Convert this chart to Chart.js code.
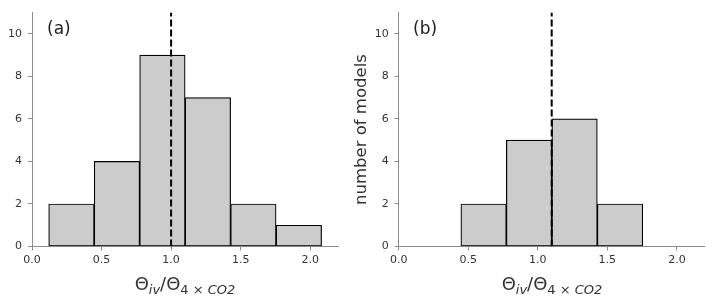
<!DOCTYPE html>
<html>
<head>
<meta charset="utf-8">
<script src="https://cdn.jsdelivr.net/npm/chart.js@4"></script>
<style>
  body { margin: 0; background: #fff; }
  #wrap { position: relative; width: 706px; height: 300px; font-family: "DejaVu Sans", sans-serif; }
  .pane { position: absolute; top: 0; width: 353px; height: 300px; }
  .tag { position: absolute; top: 18px; font-size: 17px; color: #222; }
  .xlab { position: absolute; top: 273px; text-align: center; font-size: 18px; color: #333; white-space: nowrap; }
  .xlab sub { font-size: 13px; vertical-align: -4px; }
  .xlab i { font-style: italic; }
</style>
</head>
<body>
<div id="wrap">
  <div class="pane" style="left:0"><canvas id="ca" width="353" height="300"></canvas></div>
  <div class="pane" style="left:353px"><canvas id="cb" width="353" height="300"></canvas></div>
  <div class="tag" style="left:47px">(a)</div>
  <div class="tag" style="left:413px">(b)</div>
  <div class="xlab" style="left:32px;width:306px">Θ<sub><i>iv</i></sub>/Θ<sub>4 × <i>CO2</i></sub></div>
  <div class="xlab" style="left:399px;width:306px">Θ<sub><i>iv</i></sub>/Θ<sub>4 × <i>CO2</i></sub></div>
</div>
<script>
// histogram bins (same edges for both panels)
const binEdges = [0.12, 0.447, 0.774, 1.101, 1.428, 1.755, 2.082];
const countsA = [2, 4, 9, 7, 2, 1];
const countsB = [null, 2, 5, 6, 2, null];
const refA = 1.0;   // dashed reference line, panel (a)
const refB = 1.1;   // dashed reference line, panel (b)
const xTicks = [0.0, 0.5, 1.0, 1.5, 2.0];
const yTicks = [0, 2, 4, 6, 8, 10];
const yLabel = 'number of models';

const spine = '#8c8c8c';
const tickFont = { family: 'DejaVu Sans', size: 11 };

function histData(counts) {
  return counts.map((c, i) => ({ x: (binEdges[i] + binEdges[i + 1]) / 2, y: c }));
}

function makeChart(id, counts, ref, yAxisWidth, padRight, withTitle) {
  new Chart(document.getElementById(id), {
    type: 'bar',
    data: {
      datasets: [
        {
          type: 'line',
          data: [{ x: ref, y: 0 }, { x: ref, y: 11 }],
          borderColor: '#000',
          borderWidth: 2,
          borderDash: [7, 3],
          pointRadius: 0,
          order: 0
        },
        {
          data: histData(counts),
          backgroundColor: '#cccccc',
          borderColor: '#000',
          borderWidth: 1.2,
          borderSkipped: false,
          barPercentage: 1,
          categoryPercentage: 1,
          order: 1
        }
      ]
    },
    options: {
      responsive: false,
      animation: false,
      layout: { padding: { top: 12, right: padRight, left: 0, bottom: 0 } },
      plugins: { legend: { display: false }, tooltip: { enabled: false } },
      scales: {
        x: {
          type: 'linear',
          min: 0,
          max: 2.2,
          offset: false,
          afterBuildTicks: s => { s.ticks = xTicks.map(v => ({ value: v })); },
          afterFit: s => { s.height = 53.5; },
          ticks: { font: tickFont, color: '#333', padding: 3, maxRotation: 0,
                   callback: v => v.toFixed(1) },
          grid: { offset: false, drawOnChartArea: false, drawTicks: true, tickLength: 4, color: spine },
          border: { display: true, color: spine }
        },
        y: {
          min: 0,
          max: 11,
          afterBuildTicks: s => { s.ticks = yTicks.map(v => ({ value: v })); },
          afterFit: s => { s.width = yAxisWidth; },
          ticks: { font: tickFont, color: '#333', padding: 6 },
          grid: { drawOnChartArea: false, drawTicks: true, tickLength: 4, color: spine },
          border: { display: true, color: spine },
          title: {
            display: withTitle,
            text: yLabel,
            color: '#333',
            font: { family: 'DejaVu Sans', size: 16.5, lineHeight: 1 },
            padding: { top: 0, bottom: 0 }
          }
        }
      }
    }
  });
}

makeChart('ca', countsA, refA, 32, 15, false);
makeChart('cb', countsB, refB, 45.7, 1.3, true);
</script>
</body>
</html>
